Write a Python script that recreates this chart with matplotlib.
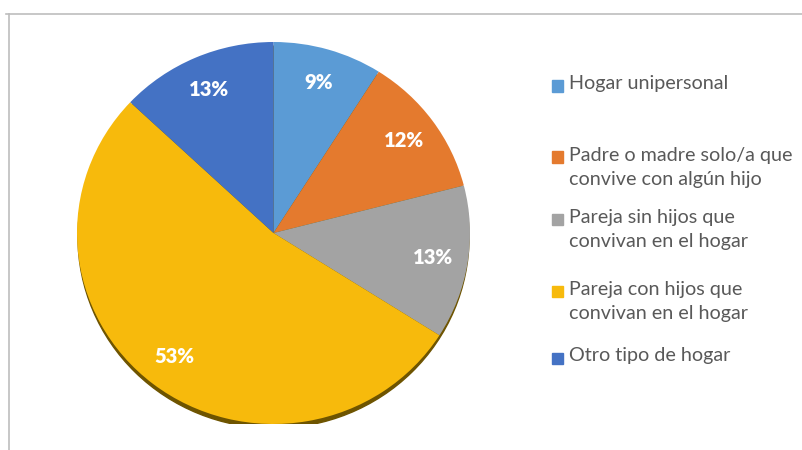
import matplotlib
matplotlib.use('Agg')
import matplotlib.pyplot as plt
from matplotlib.patches import Ellipse, Rectangle
from matplotlib.lines import Line2D

# data
categories = ['Hogar unipersonal',
              'Padre o madre solo/a que\nconvive con algún hijo',
              'Pareja sin hijos que\nconvivan en el hogar',
              'Pareja con hijos que\nconvivan en el hogar',
              'Otro tipo de hogar']
shares = [9, 12, 13, 53, 13]
colors = ['#5B9BD5', '#E47A2E', '#A3A3A3', '#F7BA0C', '#4472C4']

W, H = 803, 450
fig = plt.figure(figsize=(W/100, H/100), dpi=100)
fig.patch.set_facecolor('white')

# chart frame (top and left edges visible)
fig.add_artist(Line2D([6/W, 1], [1-14/H, 1-14/H], color='#bdbdbd', lw=1.2))
fig.add_artist(Line2D([9/W, 9/W], [0, 1-14/H], color='#bdbdbd', lw=1.2))

# pie area, slightly squashed like the 3d excel pie
cx, cy, rx, ry = 273.5, 233, 196.5, 191
ax = fig.add_axes([(cx-rx)/W, 1-(cy+ry)/H, 2*rx/W, 2*ry/H])

# bottom rim/shadow
ax.add_patch(Ellipse((0, -0.022), 1.99, 2, color='#6e5400', zorder=0))

wedges, texts, autotexts = ax.pie(shares, colors=colors, startangle=90, counterclock=False,
                                  autopct=lambda p: '%d%%' % round(p), pctdistance=0.82,
                                  wedgeprops=dict(linewidth=0))
for w in wedges:
    w.set_zorder(1)
for t in autotexts:
    t.set_color('white')
    t.set_fontweight('heavy')
    t.set_fontsize(14.5)
    t.set_family('Lato')
ax.set_aspect('auto')
ax.set_xlim(-1, 1)
ax.set_ylim(-1, 1)
ax.axis('off')

# legend, drawn by hand to keep the excel spacing
leg_y = [86, 157, 220, 291, 358]
for lab, col, y in zip(categories, colors, leg_y):
    fig.add_artist(Rectangle((552/W, 1-(y+5.5)/H), 11/W, 11/H, color=col,
                             transform=fig.transFigure))
    fig.text(569/W, 1-(y-10.5)/H, lab, fontsize=14.2, family='Lato', color='#595959',
             va='top', ha='left', linespacing=1.5)

fig.savefig('out.png', dpi=100)
